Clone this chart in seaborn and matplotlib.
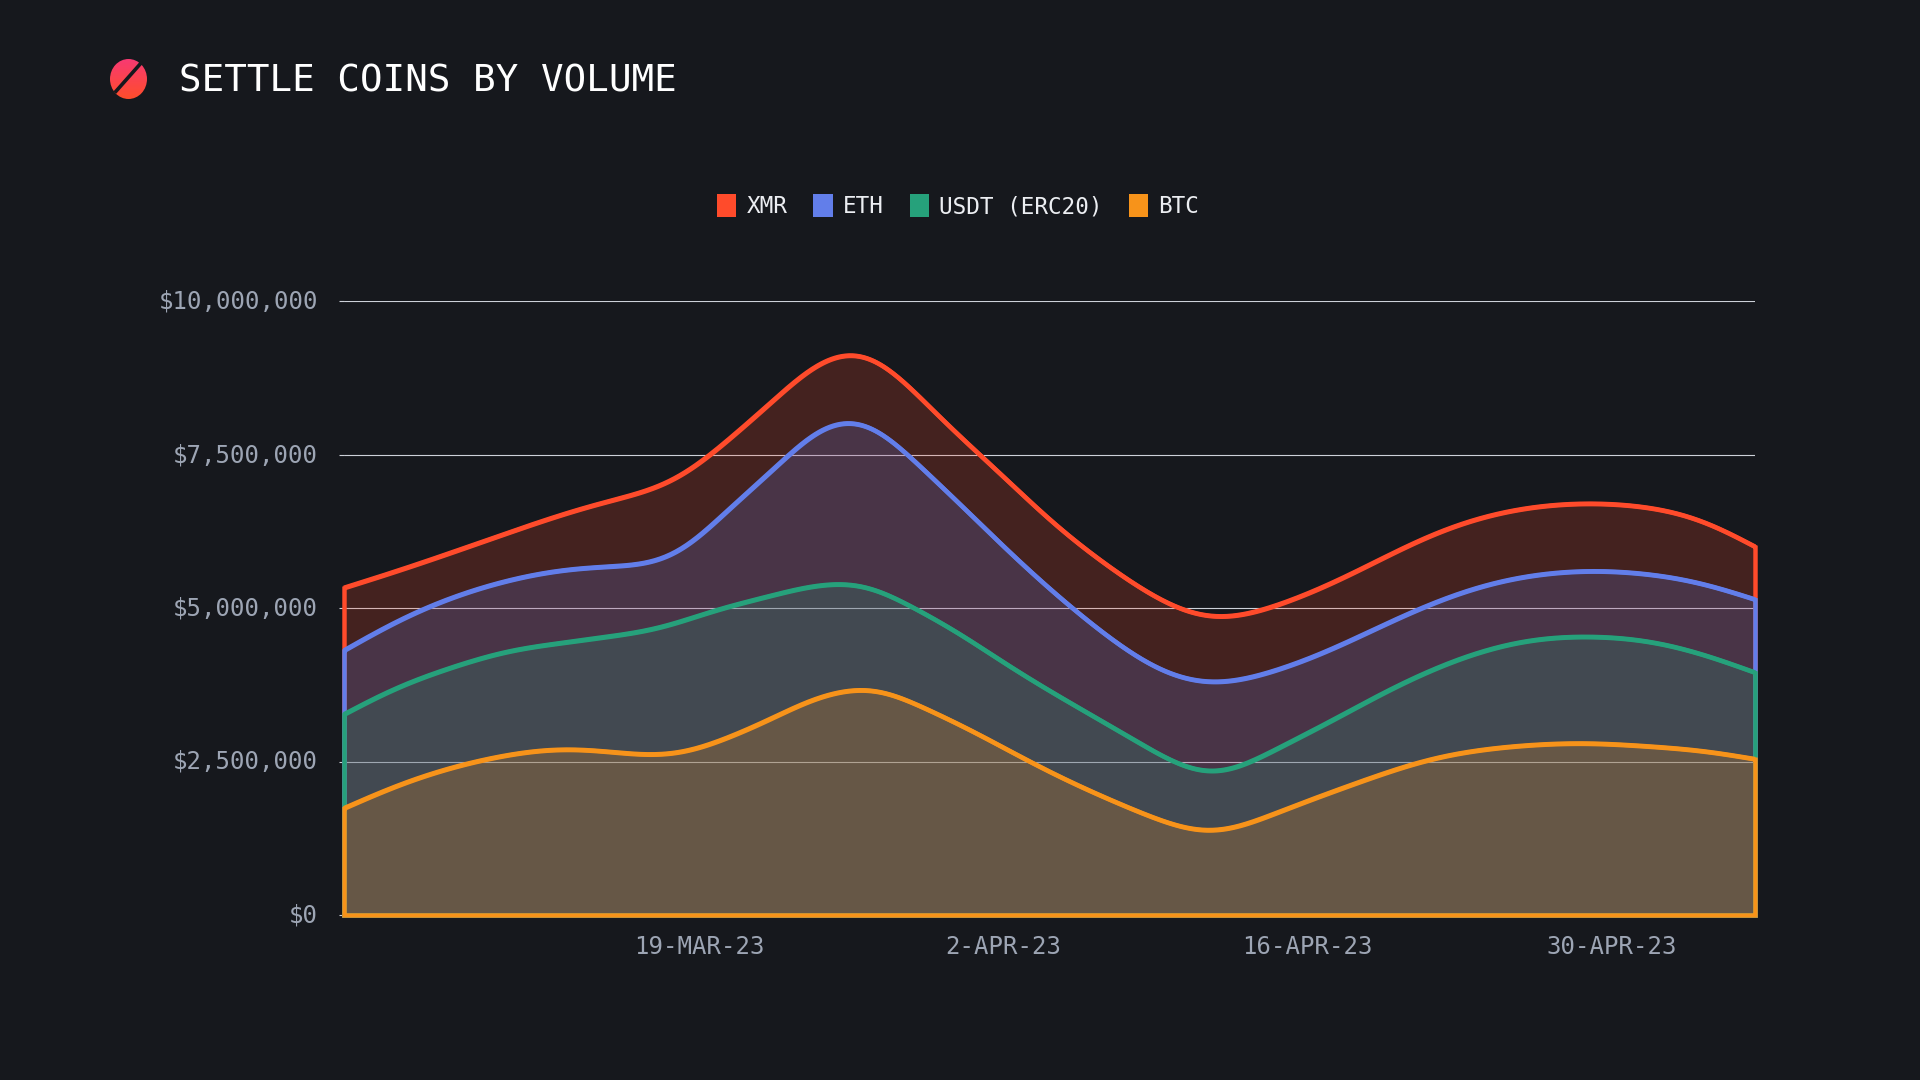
import numpy as np
import pandas as pd
import seaborn as sns
import matplotlib
matplotlib.use('Agg')
import matplotlib.pyplot as plt
import matplotlib.dates as mdates
from matplotlib.patches import Patch, Ellipse
from matplotlib.colors import LinearSegmentedColormap, to_rgba
from matplotlib.ticker import FuncFormatter
from matplotlib.transforms import ScaledTranslation

# values, in millions of dollars
days = [0, 2.5, 5, 7.5, 10, 12.5, 15, 16.25, 17.5, 20, 21.25, 22.5, 23.75, 25, 26.25, 27.5, 30, 32.5, 35,
        37.5, 40, 42.5, 45, 47.5, 50, 52.5, 55, 57.5, 60, 62.5, 65]
dates = pd.Timestamp('2023-03-02 12:00') + pd.to_timedelta(days, unit='D')
xmr = [5.33, 5.61, 5.91, 6.22, 6.52, 6.77, 7.03, 7.30, 7.68, 8.45, 8.87, 9.14, 9.21, 8.97, 8.54, 8.08, 7.27, 6.43,
       5.73, 5.14, 4.82, 4.98, 5.32, 5.75, 6.18, 6.49, 6.66, 6.71, 6.65, 6.44, 6.00]
eth = [4.31, 4.80, 5.18, 5.45, 5.62, 5.68, 5.80, 6.09, 6.55, 7.32, 7.78, 8.06, 8.09, 7.84, 7.40, 6.99, 6.13, 5.31,
       4.58, 3.99, 3.76, 3.93, 4.25, 4.66, 5.06, 5.37, 5.55, 5.61, 5.56, 5.41, 5.14]
usdt = [3.27, 3.72, 4.04, 4.30, 4.43, 4.55, 4.71, 4.87, 5.01, 5.23, 5.35, 5.41, 5.41, 5.25, 5.00, 4.77, 4.20, 3.65,
        3.14, 2.62, 2.27, 2.62, 3.07, 3.55, 3.98, 4.31, 4.50, 4.54, 4.47, 4.26, 3.95]
btc = [1.74, 2.12, 2.41, 2.61, 2.71, 2.65, 2.60, 2.69, 2.86, 3.25, 3.48, 3.63, 3.71, 3.66, 3.45, 3.25, 2.80, 2.33,
       1.92, 1.55, 1.33, 1.60, 1.94, 2.26, 2.54, 2.70, 2.78, 2.80, 2.75, 2.68, 2.54]
series_names = ['XMR', 'ETH', 'USDT (ERC20)', 'BTC']
series_values = [xmr, eth, usdt, btc]
series_colors = ['#ff4b2b', '#627eea', '#26a17b', '#f7931a']
y_ticks = [0, 2500000, 5000000, 7500000, 10000000]
x_ticks = ['2023-03-19', '2023-04-02', '2023-04-16', '2023-04-30']
x_labels = ['19-MAR-23', '2-APR-23', '16-APR-23', '30-APR-23']

BG = '#16181d'
MONO = 'DejaVu Sans Mono'
W, H = 1920, 1080


def smooth(x, y, n=800, sigma=1.1):
    # natural cubic spline with a light gaussian pass, the chart draws its lines as soft curves
    x = np.asarray(x, dtype=float)
    y = np.asarray(y, dtype=float)
    h = np.diff(x)
    A = np.zeros((len(x), len(x)))
    b = np.zeros(len(x))
    A[0, 0] = A[-1, -1] = 1
    for i in range(1, len(x) - 1):
        A[i, i - 1] = h[i - 1]
        A[i, i] = 2 * (h[i - 1] + h[i])
        A[i, i + 1] = h[i]
        b[i] = 6 * ((y[i + 1] - y[i]) / h[i] - (y[i] - y[i - 1]) / h[i - 1])
    m = np.linalg.solve(A, b)
    xs = np.linspace(x[0], x[-1], n)
    j = np.clip(np.searchsorted(x, xs) - 1, 0, len(h) - 1)
    t0 = x[j + 1] - xs
    t1 = xs - x[j]
    ys = (m[j] * t0**3 + m[j + 1] * t1**3) / (6 * h[j]) \
        + (y[j] / h[j] - m[j] * h[j] / 6) * t0 \
        + (y[j + 1] / h[j] - m[j + 1] * h[j] / 6) * t1
    s = sigma / (xs[1] - xs[0])
    pad = int(4 * s)
    kern = np.exp(-0.5 * (np.arange(-pad, pad + 1) / s) ** 2)
    kern = kern / kern.sum()
    ext = np.r_[2 * ys[0] - ys[pad:0:-1], ys, 2 * ys[-1] - ys[-2:-pad - 2:-1]]
    ys = np.convolve(ext, kern, mode='same')[pad:-pad]
    return xs, ys


sns.set_theme(style='dark', rc={'figure.facecolor': BG, 'axes.facecolor': BG})
plt.rcParams['font.family'] = [MONO, 'DejaVu Sans']

fig = plt.figure(figsize=(19.2, 10.8), dpi=100)
ax = fig.add_axes([344 / W, 1 - 915 / H, (1755 - 344) / W, (915 - 301) / H])

x_num = mdates.date2num(dates)
for name, vals, col in zip(series_names, series_values, series_colors):
    xs, ys = smooth(x_num, vals)
    ys = ys * 1e6
    ax.fill_between(xs, ys, 0, facecolor=to_rgba(col, 0.2), edgecolor=col, linewidth=3.2,
                    joinstyle='miter', clip_on=False, zorder=3)
    sns.lineplot(x=xs, y=ys, color=col, linewidth=3.2, ax=ax, clip_on=False, zorder=3,
                 solid_capstyle='butt', errorbar=None)

ax.set_xlim(x_num[0], x_num[-1])
ax.set_ylim(0, 10000000)
ax.set_xticks(mdates.date2num(pd.to_datetime(x_ticks)))
ax.set_xticklabels(x_labels)
ax.set_yticks(y_ticks)
ax.yaxis.set_major_formatter(FuncFormatter(lambda v, p: '${:,.0f}'.format(v)))
ax.set_xlabel('')
ax.set_ylabel('')
ax.grid(axis='y', color='#cdd1d9', linewidth=0.8)
ax.grid(axis='x', visible=False)
ax.tick_params(axis='y', left=True, length=3.6, width=0.8, color='#cdd1d9', pad=15, labelsize=17.3, labelcolor='#9da5b4')
ax.tick_params(axis='x', length=0, pad=15, labelsize=17.3, labelcolor='#9da5b4')
sns.despine(ax=ax, left=True, bottom=True)

# labels sit a little off their ticks in the original
for t in ax.get_yticklabels():
    t.set_transform(t.get_transform() + ScaledTranslation(0, 2 / 100, fig.dpi_scale_trans))
for t in ax.get_xticklabels():
    t.set_transform(t.get_transform() + ScaledTranslation(-2.5 / 100, 1 / 100, fig.dpi_scale_trans))

handles = [Patch(facecolor=c, edgecolor='none', label=n) for n, c in zip(series_names, series_colors)]
fig.legend(handles=handles, ncol=4, loc='center', bbox_to_anchor=(958 / W, 1 - 206 / H), frameon=False,
           fontsize=16.3, labelcolor='#eceef2', handlelength=0.85, handleheight=1.2, handletextpad=0.45,
           columnspacing=1.15)

fig.text(179 / W, 1 - 81.5 / H, 'SETTLE COINS BY VOLUME', color='white', fontsize=27, va='center', ha='left')

# logo: gradient ellipse with a slash through it
logo = fig.add_axes([110 / W, 1 - 99 / H, 37 / W, 40 / H])
logo.axis('off')
cmap = LinearSegmentedColormap.from_list('logo', ['#f83a72', '#ff4d2b'])
im = logo.imshow(np.linspace(0, 1, 64).reshape(-1, 1), cmap=cmap, extent=(0, 1, 0, 1), aspect='auto')
clip = Ellipse((0.5, 0.5), 1, 1, transform=logo.transAxes, facecolor='none', edgecolor='none')
logo.add_patch(clip)
im.set_clip_path(clip)
logo.plot([0.84, 0.13], [0.9, 0.16], color=BG, linewidth=2.6, transform=logo.transAxes, solid_capstyle='butt')

fig.savefig('out.png', dpi=100, facecolor=BG)
